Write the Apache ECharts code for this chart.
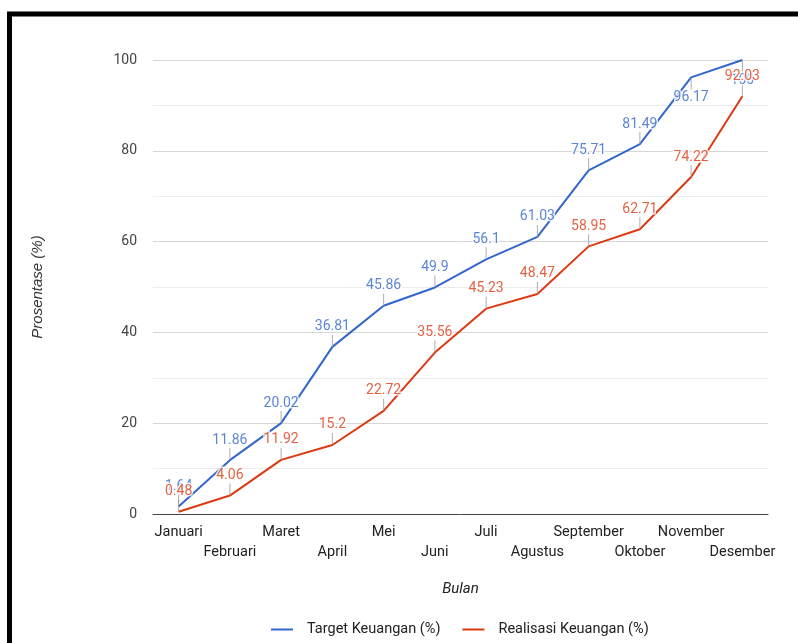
<!DOCTYPE html>
<html>
<head>
<meta charset="utf-8">
<script src="https://cdn.jsdelivr.net/npm/echarts@6/dist/echarts.min.js"></script>
<style>
  html, body { margin: 0; padding: 0; background: #fff; }
  #chart { width: 798px; height: 643px; }
</style>
</head>
<body>
<div id="chart"></div>
<script>
// Monthly financial target vs. realisation (cumulative %)
const months = ['Januari', 'Februari', 'Maret', 'April', 'Mei', 'Juni', 'Juli',
  'Agustus', 'September', 'Oktober', 'November', 'Desember'];
const targetKeuangan = [1.64, 11.86, 20.02, 36.81, 45.86, 49.9, 56.1, 61.03, 75.71, 81.49, 96.17, 100];
const realisasiKeuangan = [0.48, 4.06, 11.92, 15.2, 22.72, 35.56, 45.23, 48.47, 58.95, 62.71, 74.22, 92.03];
const yTicks = [0, 20, 40, 60, 80, 100];
// months whose target annotation hangs below the point
const targetBelow = ['November', 'Desember'];

const BLUE = '#3366cc';
const RED = '#dc3912';
const FONT = 'Roboto';

// annotation stems with the value text on top (or below)
function annotations(values, belowList) {
  return values.map((v, i) => {
    const below = belowList.indexOf(months[i]) >= 0;
    return {
      value: v,
      symbolOffset: [0, below ? 6 : -6],
      label: { position: below ? 'bottom' : 'top' }
    };
  });
}

function stemSeries(values, color, belowList) {
  return {
    type: 'scatter',
    name: '',
    data: annotations(values, belowList),
    symbol: 'rect',
    symbolSize: [1, 12],
    itemStyle: { color: '#9a9a9a' },
    silent: true,
    label: {
      show: true,
      distance: 1,
      color: color,
      fontFamily: FONT,
      fontSize: 14,
      textBorderColor: '#fff',
      textBorderWidth: 3,
      formatter: p => String(p.value)
    },
    z: 5
  };
}

const chart = echarts.init(document.getElementById('chart'));
chart.setOption({
  animation: false,
  backgroundColor: '#fff',
  graphic: [{
    type: 'rect',
    shape: { x: 9.5, y: 14, width: 900, height: 700 },
    style: { fill: 'none', stroke: '#000', lineWidth: 5 },
    silent: true
  }],
  grid: { left: 153, right: 30, top: 60, bottom: 129 },
  legend: {
    data: ['Target Keuangan (%)', 'Realisasi Keuangan (%)'],
    top: 617,
    left: 266,
    icon: 'rect',
    itemWidth: 22,
    itemHeight: 2,
    itemGap: 22,
    textStyle: { fontFamily: FONT, fontSize: 14.5, color: '#222', padding: [0, 0, 0, 9] }
  },
  xAxis: {
    type: 'category',
    data: months,
    boundaryGap: true,
    name: 'Bulan',
    nameLocation: 'middle',
    nameGap: 68,
    nameTextStyle: { fontFamily: FONT, fontSize: 15, fontStyle: 'italic', color: '#222' },
    axisLine: { lineStyle: { color: '#444', width: 1 } },
    axisTick: { show: false },
    axisLabel: {
      interval: 0,
      margin: 8,
      fontFamily: FONT,
      fontSize: 14.5,
      color: '#222',
      lineHeight: 20,
      formatter: (v, i) => (i % 2 ? '\n' + v : v)
    }
  },
  yAxis: {
    type: 'value',
    min: yTicks[0],
    max: yTicks[yTicks.length - 1],
    interval: yTicks[1] - yTicks[0],
    name: 'Prosentase (%)',
    nameLocation: 'middle',
    nameGap: 108,
    nameTextStyle: { fontFamily: 'Liberation Sans', fontSize: 15, fontStyle: 'italic', color: '#333' },
    axisLine: { show: false },
    axisTick: { show: false },
    axisLabel: { margin: 16, fontFamily: FONT, fontSize: 14, color: '#444' },
    splitLine: { lineStyle: { color: '#d6d6d6' } },
    minorTick: { show: false, splitNumber: 2 },
    minorSplitLine: { show: true, lineStyle: { color: '#ececec' } }
  },
  series: [
    {
      type: 'line',
      name: 'Target Keuangan (%)',
      data: targetKeuangan,
      color: BLUE,
      symbol: 'none',
      lineStyle: { width: 2, color: BLUE },
      z: 3
    },
    {
      type: 'line',
      name: 'Realisasi Keuangan (%)',
      data: realisasiKeuangan,
      color: RED,
      symbol: 'none',
      lineStyle: { width: 2, color: RED },
      z: 3
    },
    stemSeries(targetKeuangan, BLUE, targetBelow),
    stemSeries(realisasiKeuangan, RED, [])
  ]
});
</script>
</body>
</html>
